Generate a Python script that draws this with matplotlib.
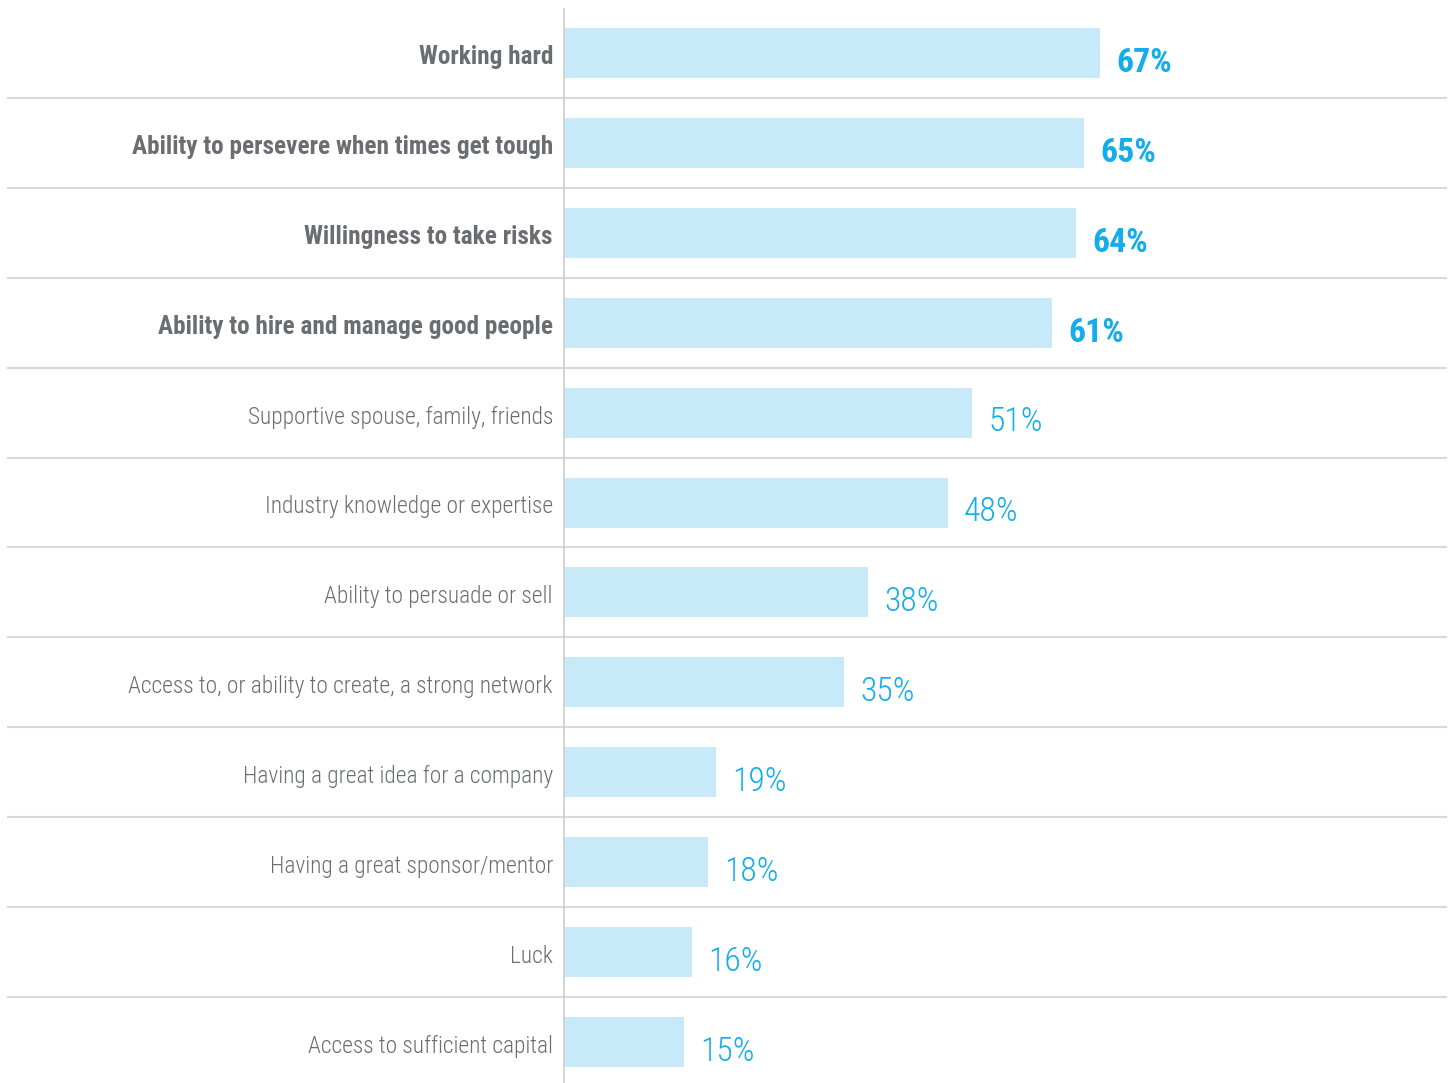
import matplotlib
matplotlib.use("Agg")
import matplotlib.pyplot as plt

categories = [
    "Working hard",
    "Ability to persevere when times get tough",
    "Willingness to take risks",
    "Ability to hire and manage good people",
    "Supportive spouse, family, friends",
    "Industry knowledge or expertise",
    "Ability to persuade or sell",
    "Access to, or ability to create, a strong network",
    "Having a great idea for a company",
    "Having a great sponsor/mentor",
    "Luck",
    "Access to sufficient capital",
]
values = [67, 65, 64, 61, 51, 48, 38, 35, 19, 18, 16, 15]
highlighted = [True, True, True, True, False, False, False, False, False, False, False, False]

FONT = ["Roboto Condensed", "DejaVu Sans"]
BAR = "#c7e9f8"
VAL = "#12adea"
LAB = "#6b6d72"
GRID = "#d9d9d9"

W, H = 1448, 1083
fig = plt.figure(figsize=(W / 100, H / 100), dpi=100)
ax = fig.add_axes([7 / W, 0, (1447 - 7) / W, (1083 - 8) / H])
ax.set_axis_off()

pxu = 8.0  # pixels per percent
ax.set_xlim(-(564 - 7) / pxu, (1447 - 564) / pxu)
row = 89.9
ax.set_ylim((1083 - 53) / row, -(53 - 8) / row)

ys = list(range(len(categories)))
ax.barh(ys, values, height=50 / row, color=BAR, left=0, zorder=2)

for i in range(len(categories) - 1):
    ax.axhline(i + 0.5, color=GRID, lw=1.5, zorder=1)
ax.axvline(0, color="#cfd0d2", lw=1.3, zorder=3)

for y, c, v, hl in zip(ys, categories, values, highlighted):
    ax.text(-11 / pxu, y + 0.05, c, ha="right", va="center",
            fontsize=18.2 if hl else 16.8, color=LAB, family=FONT,
            fontweight=700 if hl else 300)
    ax.text(v + 16 / pxu, y + 0.11, f"{v}%", ha="left", va="center",
            fontsize=24.3, color=VAL, family=FONT,
            fontweight=700 if hl else 300)

fig.savefig("out.png", dpi=100, facecolor="white")
